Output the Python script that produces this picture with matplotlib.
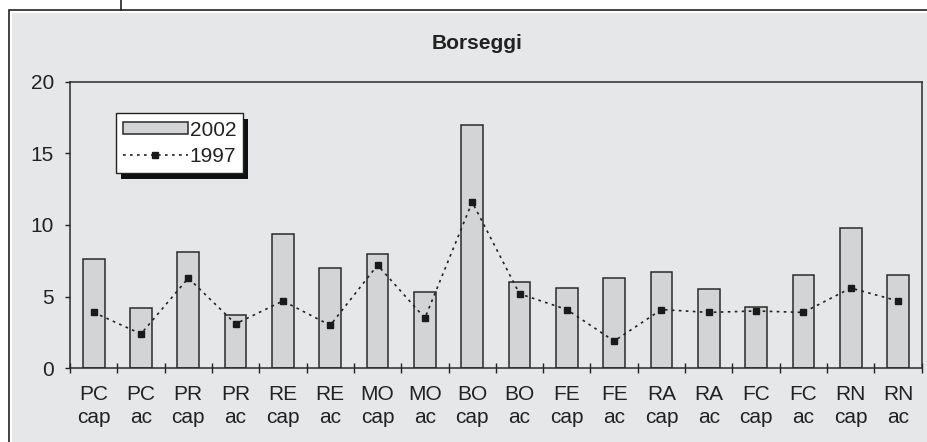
import matplotlib.pyplot as plt
from matplotlib.patches import Rectangle
import numpy as np

plt.rcParams['font.family'] = ['Liberation Sans', 'DejaVu Sans']

provinces = ['PC', 'PC', 'PR', 'PR', 'RE', 'RE', 'MO', 'MO', 'BO', 'BO',
             'FE', 'FE', 'RA', 'RA', 'FC', 'FC', 'RN', 'RN']
kinds = ['cap', 'ac'] * 9
labels = [p + '\n' + k for p, k in zip(provinces, kinds)]

v2002 = [7.6, 4.2, 8.1, 3.7, 9.4, 7.0, 8.0, 5.3, 17.0, 6.0,
         5.6, 6.3, 6.7, 5.5, 4.3, 6.5, 9.8, 6.5]
v1997 = [3.9, 2.4, 6.3, 3.1, 4.7, 3.0, 7.2, 3.5, 11.6, 5.2,
         4.1, 1.9, 4.1, 3.9, 4.0, 3.9, 5.6, 4.7]

bg = '#e6e7e9'
ink = '#222222'

W, H = 928, 442
fig = plt.figure(figsize=(W / 100, H / 100), dpi=100)
fig.patch.set_facecolor('white')

# outer frame and the stray line above it
fig.add_artist(Rectangle((9 / W, -0.1), 1.2, (H - 9.5) / H + 0.1, transform=fig.transFigure,
                         facecolor='white', edgecolor='#222222', linewidth=1.2, zorder=-3))
fig.add_artist(Rectangle((12 / W, -0.1), 1.2, (H - 13) / H + 0.1, transform=fig.transFigure,
                         facecolor=bg, edgecolor='none', zorder=-2))
fig.add_artist(plt.Line2D([121 / W, 121 / W], [1, (H - 9.5) / H], transform=fig.transFigure,
                          color='#222222', linewidth=1.2))

ax = fig.add_axes([70 / W, (H - 368.3) / H, 851.7 / W, 286.6 / H])
ax.set_facecolor('none')

x = np.arange(len(labels))
bars = ax.bar(x, v2002, width=0.46, color='#d3d4d6', edgecolor='#2a2a2a', linewidth=1.1,
              label='2002', zorder=2)
line, = ax.plot(x, v1997, linestyle=(0, (1.6, 2.6)), color='#222222', linewidth=1.2,
                marker='s', markersize=4.6, markerfacecolor='#1a1a1a',
                markeredgecolor='#1a1a1a', label='1997', zorder=3)

ax.set_xlim(-0.5, len(labels) - 0.5)
ax.set_ylim(0, 20)
ax.set_yticks([0, 5, 10, 15, 20])
ax.set_xticks(x)
ax.set_xticklabels(labels, linespacing=1.25)
ax.set_xticks(np.arange(-0.5, len(labels)), minor=True)
ax.tick_params(axis='x', which='major', length=0, pad=12, labelsize=15, labelcolor=ink)
ax.tick_params(axis='x', which='minor', direction='inout', length=6.5, width=1.0, color='#222222')
ax.tick_params(axis='y', direction='out', length=3.6, width=1.0, pad=8, labelsize=15,
               labelcolor=ink, color='#222222')
for s in ax.spines.values():
    s.set_color('#2a2a2a')
    s.set_linewidth(1.1)

fig.text(477 / W, (H - 48.7) / H, 'Borseggi', ha='center', va='baseline',
         fontsize=15, fontweight='bold', color=ink)

leg = ax.legend(handles=[bars, line], loc='upper left', bbox_to_anchor=(0.0537, 0.8897),
                borderaxespad=0, fontsize=15, frameon=True, fancybox=False, framealpha=1,
                edgecolor='#222222', handlelength=3.1, handleheight=0.5,
                handletextpad=0.1, labelspacing=0.35, borderpad=0.35, labelcolor=ink)
leg.get_frame().set_linewidth(1.0)
leg.set_zorder(5)

fig.canvas.draw()
bb = leg.get_window_extent()
inv = ax.transAxes.inverted()
(x0, y0), (x1, y1) = inv.transform([(bb.x0 + 5, bb.y0 - 5.5), (bb.x1 + 5, bb.y1 - 5.5)])
ax.add_patch(Rectangle((x0, y0), x1 - x0, y1 - y0, transform=ax.transAxes,
                       facecolor='#111111', edgecolor='none', zorder=4.9, clip_on=False))

fig.savefig('out.png', dpi=100)
